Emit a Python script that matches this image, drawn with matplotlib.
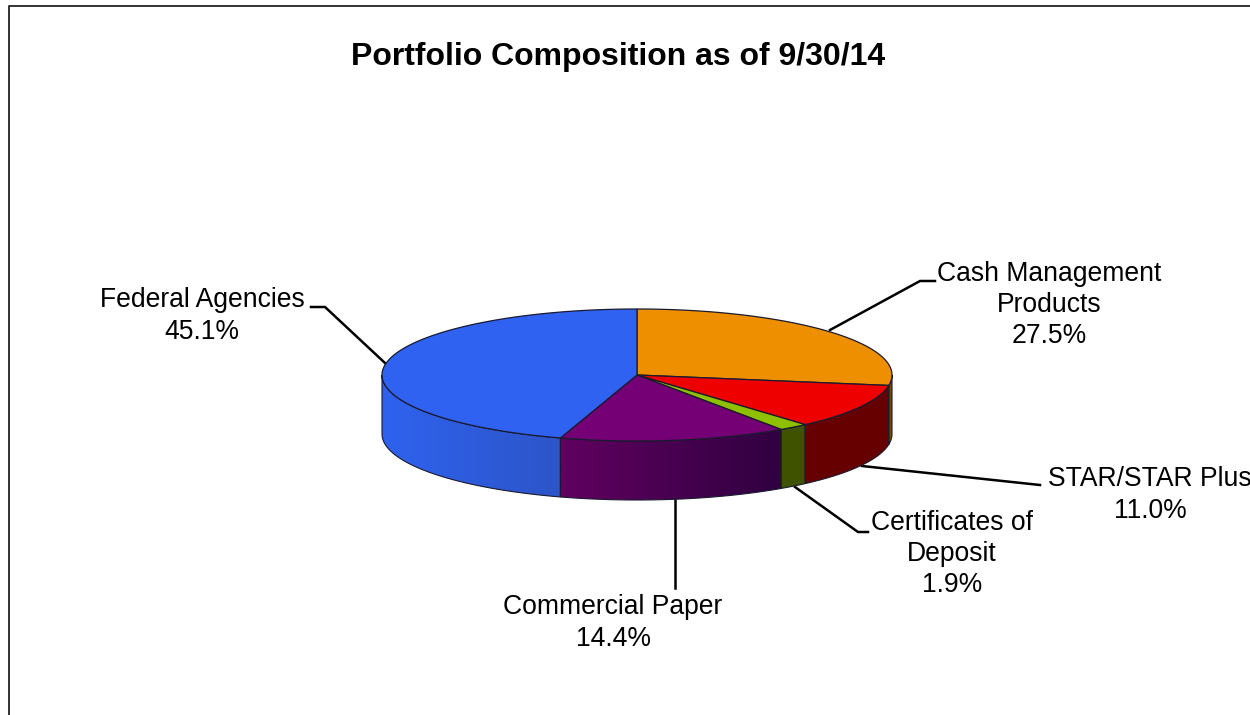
import matplotlib
matplotlib.use("Agg")
import matplotlib.pyplot as plt
import numpy as np

plt.rcParams['font.family'] = ['Liberation Sans', 'DejaVu Sans']

title = "Portfolio Composition as of 9/30/14"
names = ["Cash Management\nProducts", "STAR/STAR Plus", "Certificates of\nDeposit", "Commercial Paper", "Federal Agencies"]
values = [27.5, 11.0, 1.9, 14.4, 45.1]
top_colors = ["#ee8f00", "#ee0000", "#8fc000", "#750075", "#2f62f0"]
side_left = ["#7a4a00", "#660000", "#3f5200", "#600060", "#2f62ee"]
side_right = ["#7a4a00", "#660000", "#3f5200", "#300040", "#2c55c8"]
label_xy = [(1049, 305), (1150, 495), (952, 554), (613, 623), (202, 316)]
leaders = [[(830, 330), (920, 281), (935, 281)],
           [(862, 466), (1040, 485)],
           [(795, 487), (858, 532), (868, 532)],
           [(675, 500), (675, 588)],
           [(385, 363), (325, 307), (311, 307)]]

cx, cy = 637, 375
rx, ry = 255, 66
depth = 59


def rim(t):
    # t is degrees clockwise from the top of the ellipse
    r = np.radians(t)
    return cx + rx*np.sin(r), cy - ry*np.cos(r)


fig = plt.figure(figsize=(12.5, 7.15), dpi=100)
ax = fig.add_axes([0, 0, 1, 1])
ax.axis("off")

# frame, only top and left are seen
ax.plot([9, 9, 1250], [715, 6, 6], color="#222222", lw=1.3, zorder=1)

edges = np.cumsum([0] + values)/sum(values)*360

for line in leaders:
    xs, ys = zip(*line)
    ax.plot(xs, ys, color="black", lw=1.8, zorder=2, solid_joinstyle="miter")

# side wall, gradient runs left to right on screen
for i in range(len(values)):
    a = max(edges[i], 90)
    b = min(edges[i+1], 270)
    if b <= a:
        continue
    tt = np.linspace(a, b, 150)
    x, y = rim(tt)
    px = np.r_[x, x[::-1]]
    py = np.r_[y, y[::-1] + depth]
    poly = ax.fill(px, py, facecolor="none", edgecolor="#1a1a30", lw=0.8, zorder=4)[0]
    left = np.array(matplotlib.colors.to_rgb(side_left[i]))
    right = np.array(matplotlib.colors.to_rgb(side_right[i]))
    grad = np.linspace(0, 1, 64)[None, :, None]*(right - left) + left
    im = ax.imshow(grad, extent=[x.min(), x.max(), py.max(), py.min()], aspect="auto",
                   interpolation="bilinear", zorder=3)
    im.set_clip_path(poly.get_path(), transform=ax.transData)

# top face
for i in range(len(values)):
    tt = np.linspace(edges[i], edges[i+1], 200)
    x, y = rim(tt)
    ax.fill(np.r_[cx, x], np.r_[cy, y], facecolor=top_colors[i], edgecolor="#1a1a30", lw=0.9, zorder=5)

for n, v, (lx, ly) in zip(names, values, label_xy):
    ax.text(lx, ly, "%s\n%.1f%%" % (n, v), ha="center", va="center", fontsize=19.1, color="black", linespacing=1.26, zorder=6)

ax.text(618, 57, title, ha="center", va="center", fontsize=23, fontweight="bold", color="black")

ax.set_xlim(0, 1250)
ax.set_ylim(715, 0)

fig.savefig("out.png", dpi=100)
